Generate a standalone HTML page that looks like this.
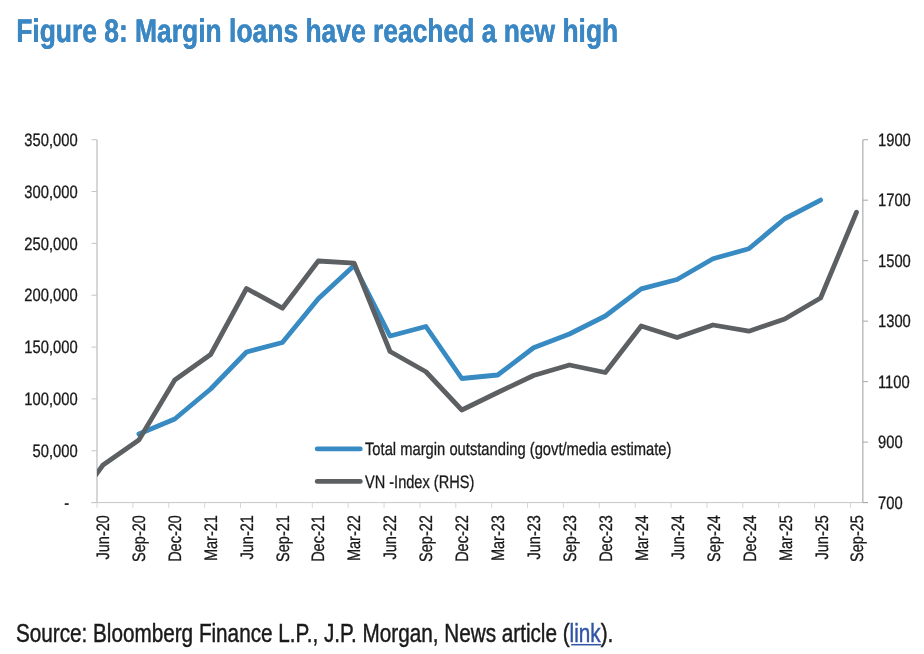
<!DOCTYPE html>
<html lang="en"><head><meta charset="utf-8"><title>Figure 8: Margin loans have reached a new high</title>
<style>
html,body{margin:0;padding:0;background:#fff;}
body{width:924px;height:654px;overflow:hidden;font-family:"Liberation Sans",sans-serif;}
svg{display:block;}
svg text{font-family:"Liberation Sans",sans-serif;}
.t{fill:#1a1a1a;font-size:18px;stroke:#1a1a1a;stroke-width:0.3px;text-rendering:geometricPrecision;}
</style></head><body>
<svg width="924" height="654" viewBox="0 0 924 654">
<rect width="924" height="654" fill="#fff"/>
<text class="title" transform="translate(16.20 41.80) scale(0.8257 1.02)" text-anchor="start" style="font-size:32px;text-rendering:geometricPrecision;font-weight:bold;fill:#3a87c3;stroke:#3a87c3;stroke-width:0.2px;filter:drop-shadow(0.7px 0 0 #3a87c3)">Figure 8: Margin loans have reached a new high</text>
<g stroke="#c6c6c6" stroke-width="1" fill="none" shape-rendering="auto">
<path d="M97.0 139.7V502.6" stroke="#b9b9b9" stroke-width="1.15"/>
<path d="M91.5 139.70H97.0"/>
<path d="M91.5 191.54H97.0"/>
<path d="M91.5 243.39H97.0"/>
<path d="M91.5 295.23H97.0"/>
<path d="M91.5 347.07H97.0"/>
<path d="M91.5 398.91H97.0"/>
<path d="M91.5 450.76H97.0"/>
<path d="M91.5 502.60H97.0"/>
<path d="M91.5 502.6H868.0"/>
<path d="M97.00 502.6V507.8" stroke="#d6d6d6"/>
<path d="M132.88 502.6V507.8" stroke="#d6d6d6"/>
<path d="M168.76 502.6V507.8" stroke="#d6d6d6"/>
<path d="M204.64 502.6V507.8" stroke="#d6d6d6"/>
<path d="M240.52 502.6V507.8" stroke="#d6d6d6"/>
<path d="M276.40 502.6V507.8" stroke="#d6d6d6"/>
<path d="M312.28 502.6V507.8" stroke="#d6d6d6"/>
<path d="M348.16 502.6V507.8" stroke="#d6d6d6"/>
<path d="M384.04 502.6V507.8" stroke="#d6d6d6"/>
<path d="M419.92 502.6V507.8" stroke="#d6d6d6"/>
<path d="M455.80 502.6V507.8" stroke="#d6d6d6"/>
<path d="M491.68 502.6V507.8" stroke="#d6d6d6"/>
<path d="M527.56 502.6V507.8" stroke="#d6d6d6"/>
<path d="M563.44 502.6V507.8" stroke="#d6d6d6"/>
<path d="M599.32 502.6V507.8" stroke="#d6d6d6"/>
<path d="M635.20 502.6V507.8" stroke="#d6d6d6"/>
<path d="M671.08 502.6V507.8" stroke="#d6d6d6"/>
<path d="M706.96 502.6V507.8" stroke="#d6d6d6"/>
<path d="M742.84 502.6V507.8" stroke="#d6d6d6"/>
<path d="M778.72 502.6V507.8" stroke="#d6d6d6"/>
<path d="M814.60 502.6V507.8" stroke="#d6d6d6"/>
<path d="M850.48 502.6V507.8" stroke="#d6d6d6"/>
</g>
<g stroke="#a6a6a6" stroke-width="1" fill="none">
<path d="M862.85 139.7V502.6" stroke-width="1.1"/>
<path d="M863.0 139.70H868.0"/>
<path d="M863.0 200.18H868.0"/>
<path d="M863.0 260.67H868.0"/>
<path d="M863.0 321.15H868.0"/>
<path d="M863.0 381.63H868.0"/>
<path d="M863.0 442.12H868.0"/>
<path d="M863.0 502.60H868.0"/>
</g>
<text class="t" transform="translate(77.60 145.90) scale(0.819 1)" text-anchor="end">350,000</text>
<text class="t" transform="translate(77.60 197.74) scale(0.819 1)" text-anchor="end">300,000</text>
<text class="t" transform="translate(77.60 249.59) scale(0.819 1)" text-anchor="end">250,000</text>
<text class="t" transform="translate(77.60 301.43) scale(0.819 1)" text-anchor="end">200,000</text>
<text class="t" transform="translate(77.60 353.27) scale(0.819 1)" text-anchor="end">150,000</text>
<text class="t" transform="translate(77.60 405.11) scale(0.819 1)" text-anchor="end">100,000</text>
<text class="t" transform="translate(77.60 456.96) scale(0.819 1)" text-anchor="end">50,000</text>
<text class="t" transform="translate(69.20 508.60) scale(0.819 1)" text-anchor="end">-</text>
<text class="t" transform="translate(878.00 145.90) scale(0.819 1)" text-anchor="start">1900</text>
<text class="t" transform="translate(878.00 206.38) scale(0.819 1)" text-anchor="start">1700</text>
<text class="t" transform="translate(878.00 266.87) scale(0.819 1)" text-anchor="start">1500</text>
<text class="t" transform="translate(878.00 327.35) scale(0.819 1)" text-anchor="start">1300</text>
<text class="t" transform="translate(878.00 387.83) scale(0.819 1)" text-anchor="start">1100</text>
<text class="t" transform="translate(878.00 448.32) scale(0.819 1)" text-anchor="start">900</text>
<text class="t" transform="translate(878.00 508.80) scale(0.819 1)" text-anchor="start">700</text>
<text class="t" transform="translate(108.90 515.10) rotate(-90) scale(0.806 1)" text-anchor="end">Jun-20</text>
<text class="t" transform="translate(144.83 515.10) rotate(-90) scale(0.806 1)" text-anchor="end">Sep-20</text>
<text class="t" transform="translate(180.76 515.10) rotate(-90) scale(0.806 1)" text-anchor="end">Dec-20</text>
<text class="t" transform="translate(216.69 515.10) rotate(-90) scale(0.806 1)" text-anchor="end">Mar-21</text>
<text class="t" transform="translate(252.62 515.10) rotate(-90) scale(0.806 1)" text-anchor="end">Jun-21</text>
<text class="t" transform="translate(288.55 515.10) rotate(-90) scale(0.806 1)" text-anchor="end">Sep-21</text>
<text class="t" transform="translate(324.48 515.10) rotate(-90) scale(0.806 1)" text-anchor="end">Dec-21</text>
<text class="t" transform="translate(360.41 515.10) rotate(-90) scale(0.806 1)" text-anchor="end">Mar-22</text>
<text class="t" transform="translate(396.34 515.10) rotate(-90) scale(0.806 1)" text-anchor="end">Jun-22</text>
<text class="t" transform="translate(432.27 515.10) rotate(-90) scale(0.806 1)" text-anchor="end">Sep-22</text>
<text class="t" transform="translate(468.20 515.10) rotate(-90) scale(0.806 1)" text-anchor="end">Dec-22</text>
<text class="t" transform="translate(504.13 515.10) rotate(-90) scale(0.806 1)" text-anchor="end">Mar-23</text>
<text class="t" transform="translate(540.06 515.10) rotate(-90) scale(0.806 1)" text-anchor="end">Jun-23</text>
<text class="t" transform="translate(575.99 515.10) rotate(-90) scale(0.806 1)" text-anchor="end">Sep-23</text>
<text class="t" transform="translate(611.92 515.10) rotate(-90) scale(0.806 1)" text-anchor="end">Dec-23</text>
<text class="t" transform="translate(647.85 515.10) rotate(-90) scale(0.806 1)" text-anchor="end">Mar-24</text>
<text class="t" transform="translate(683.78 515.10) rotate(-90) scale(0.806 1)" text-anchor="end">Jun-24</text>
<text class="t" transform="translate(719.71 515.10) rotate(-90) scale(0.806 1)" text-anchor="end">Sep-24</text>
<text class="t" transform="translate(755.64 515.10) rotate(-90) scale(0.806 1)" text-anchor="end">Dec-24</text>
<text class="t" transform="translate(791.57 515.10) rotate(-90) scale(0.806 1)" text-anchor="end">Mar-25</text>
<text class="t" transform="translate(827.50 515.10) rotate(-90) scale(0.806 1)" text-anchor="end">Jun-25</text>
<text class="t" transform="translate(863.43 515.10) rotate(-90) scale(0.806 1)" text-anchor="end">Sep-25</text>
<clipPath id="c"><rect x="97.0" y="100" width="776.0" height="420"/></clipPath>
<polyline points="138.88,434.00 174.76,419.00 210.64,389.00 246.52,352.00 282.40,342.50 318.28,298.70 354.16,265.50 390.04,336.00 425.92,326.50 461.80,378.50 497.68,375.00 533.56,347.75 569.44,334.00 605.32,316.00 641.20,288.90 677.08,279.50 712.96,258.75 748.84,248.75 784.72,218.75 820.60,200.10" fill="none" stroke="#378ac2" stroke-width="4.8" stroke-linecap="round" stroke-linejoin="round"/>
<polyline points="95.00,476.00 103.00,465.00 138.88,440.00 174.76,380.00 210.64,354.50 246.52,288.50 282.40,308.20 318.28,261.00 354.16,263.20 390.04,351.50 425.92,371.75 461.80,410.00 497.68,392.50 533.56,375.50 569.44,365.00 605.32,372.50 641.20,326.00 677.08,337.50 712.96,325.00 748.84,331.20 784.72,319.00 820.60,298.00 856.48,212.30" fill="none" stroke="#5d6063" stroke-width="4.8" stroke-linecap="round" stroke-linejoin="round" clip-path="url(#c)"/>
<path d="M317.2 448.9H360.3" stroke="#378ac2" stroke-width="4.8" stroke-linecap="round"/>
<path d="M317.2 481.4H360.3" stroke="#5d6063" stroke-width="4.8" stroke-linecap="round"/>
<text class="t" transform="translate(365.00 454.60) scale(0.819 1)" text-anchor="start">Total margin outstanding (govt/media estimate)</text>
<text class="t" transform="translate(365.00 487.60) scale(0.809 1)" text-anchor="start">VN -Index (RHS)</text>
<text transform="translate(16 641.7) scale(0.8283 1)" style="font-size:25px;fill:#1a1a1a;stroke:#1a1a1a;stroke-width:0.45px">Source: Bloomberg Finance L.P., J.P. Morgan, News article (<tspan fill="#3054a6" stroke="#3054a6">link</tspan>).</text>
<path d="M571.2 644.7H601.3" stroke="#3054a6" stroke-width="1.5"/>
</svg>
</body></html>
